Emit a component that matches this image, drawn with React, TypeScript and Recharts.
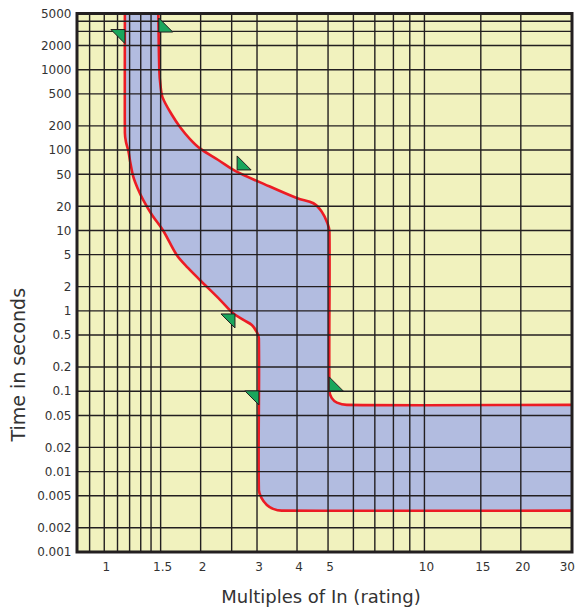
import React from 'react';
import { ComposedChart, XAxis, YAxis, Scatter, CartesianGrid } from 'recharts';

// Axis ranges
const X_MIN = 0.822;
const X_MAX = 28.9;
const T_MIN = 0.001;
const T_MAX = 5000;

// Tick labels
const X_TICKS = [1, 1.5, 2, 3, 4, 5, 10, 15, 20, 30];
const T_TICKS = [0.001, 0.002, 0.005, 0.01, 0.02, 0.05, 0.1, 0.2, 0.5, 1, 2, 5, 10, 20, 50, 100, 200, 500, 1000, 2000, 5000];

// Grid line values
const GRID_X = [0.9, 1, 1.1, 1.2, 1.3, 1.4, 1.5, 2, 2.5, 3, 4, 5, 6, 7, 8, 9, 10, 15, 20];
const GRID_T = [0.002, 0.005, 0.01, 0.02, 0.05, 0.1, 0.2, 0.5, 1, 2, 5, 10, 20, 50, 100, 200, 500, 1000, 2000, 3000, 4000];

// Minimum (lower/left) trip curve, from top to right end
const MIN_X = [1.16, 1.16, 1.169, 1.189, 1.207, 1.232, 1.27, 1.324, 1.41, 1.53, 1.684, 1.826, 1.99, 2.3, 2.52, 2.72, 2.89, 2.99, 3.04, 3.04, 3.1, 3.22, 3.37, 3.58, X_MAX];
const MIN_T = [5000, 163, 126, 98, 69, 46.7, 33.8, 23.9, 15.6, 9.86, 4.95, 3.42, 2.42, 1.37, 0.94, 0.77, 0.668, 0.551, 0.456, 0.0059, 0.00467, 0.00385, 0.00344, 0.00327, 0.00327];

// Maximum (upper/right) trip curve, from top to right end
const MAX_X = [1.475, 1.486, 1.498, 1.522, 1.628, 1.724, 1.853, 1.99, 2.27, 2.59, 3.07, 4.01, 4.5, 4.78, 4.98, 5.05, 5.05, 5.13, 5.33, 5.72, X_MAX];
const MAX_T = [5000, 964, 645, 449, 273, 194, 137, 105, 75.3, 53.8, 39.7, 25.1, 21.8, 17.1, 12.3, 9.6, 0.102, 0.0826, 0.0722, 0.0676, 0.0676];

// Green marker triangles
const MARK_X = [1.16, 1.48, 2.6, 2.56, 3.04, 5.04];
const MARK_T = [3160, 2940, 56.6, 0.915, 0.101, 0.101];
const MARK_DIR = ['left', 'right', 'right', 'left', 'left', 'right'];

const YELLOW = '#f1f2be';
const BLUE = '#b2bce0';
const RED = '#ec1c24';
const GREEN = '#1aa65c';
const INK = '#231f20';
const TEXT = '#333333';
const FONT = '"DejaVu Sans", "Liberation Sans", sans-serif';
const CHART_W = 576;
const CHART_H = 599;
const LABEL_RIGHT_LIMIT = CHART_W - 9;

const renderNothing = () => <g />;

type P = { x: number; y: number };

// Smooth path through points: tangent from neighbours, handle length = 1/3 of segment
const smoothCmds = (pts: P[]) => {
  const n = pts.length;
  const dirs = pts.map((p, i) => {
    const a = pts[Math.max(0, i - 1)];
    const b = pts[Math.min(n - 1, i + 1)];
    const dx = b.x - a.x;
    const dy = b.y - a.y;
    const len = Math.hypot(dx, dy) || 1;
    return { x: dx / len, y: dy / len };
  });
  let d = '';
  for (let i = 0; i + 1 < n; i++) {
    const p = pts[i];
    const q = pts[i + 1];
    const L = Math.hypot(q.x - p.x, q.y - p.y) / 3;
    const c1 = { x: p.x + dirs[i].x * L, y: p.y + dirs[i].y * L };
    const c2 = { x: q.x - dirs[i + 1].x * L, y: q.y - dirs[i + 1].y * L };
    d += `C${c1.x},${c1.y} ${c2.x},${c2.y} ${q.x},${q.y}`;
  }
  return d;
};

const BandShape = (props: any) => {
  const { points, split } = props;
  if (!points || points.length < 3) return <g />;
  const lower: P[] = points.slice(0, split);
  const upper: P[] = points.slice(split);
  const lowerD = `M${lower[0].x},${lower[0].y}` + smoothCmds(lower);
  const upperD = `M${upper[0].x},${upper[0].y}` + smoothCmds(upper);
  const fillD = lowerD + `L${upper[0].x},${upper[0].y}` + smoothCmds(upper) + 'Z';
  return (
    <g>
      <path d={fillD} fill={BLUE} stroke="none" />
      <path d={lowerD} fill="none" stroke={RED} strokeWidth={2.6} strokeLinejoin="round" />
      <path d={upperD} fill="none" stroke={RED} strokeWidth={2.6} strokeLinejoin="round" />
    </g>
  );
};

const GridShape = (props: any) => {
  const { points } = props;
  if (!points) return <g />;
  const segs = [];
  for (let i = 0; i + 1 < points.length; i += 2) {
    const a = points[i];
    const b = points[i + 1];
    segs.push(<line key={i} x1={a.x} y1={a.y} x2={b.x} y2={b.y} stroke={INK} strokeWidth={1.4} />);
  }
  return <g>{segs}</g>;
};

const BorderShape = (props: any) => {
  const { points } = props;
  if (!points) return <g />;
  const d = 'M' + points.map((p: any) => `${p.x},${p.y}`).join('L') + 'Z';
  return <path d={d} fill="none" stroke={INK} strokeWidth={3} />;
};

const renderTriangle = (props: any) => {
  const { cx, cy, payload } = props;
  const s = 14;
  let pts;
  if (payload.dir === 'left') {
    pts = `${cx - s},${cy} ${cx},${cy} ${cx},${cy + s}`;
  } else {
    pts = `${cx},${cy - s} ${cx},${cy} ${cx + s},${cy}`;
  }
  return <polygon points={pts} fill={GREEN} stroke={INK} strokeWidth={1} strokeLinejoin="miter" />;
};

const XTick = (props: any) => {
  const { x, y, payload } = props;
  const label = String(payload.value);
  const half = label.length * 3.9;
  let tx = x + 2;
  let anchor: 'middle' | 'end' = 'middle';
  if (tx + half > LABEL_RIGHT_LIMIT) {
    tx = LABEL_RIGHT_LIMIT;
    anchor = 'end';
  }
  return (
    <text x={tx} y={y} dy="0.71em" textAnchor={anchor} fontFamily={FONT} fontSize={12} fill={TEXT}>
      {label}
    </text>
  );
};

const renderXTitle = (props: any) => {
  const vb = props.viewBox || { x: 69, y: 544, width: 495, height: 55 };
  return (
    <text x={vb.x + vb.width / 2 - 3.5} y={vb.y + 51} textAnchor="middle" fontFamily={FONT} fontSize={18} fill={TEXT}>
      {props.value}
    </text>
  );
};

const renderYTitle = (props: any) => {
  const vb = props.viewBox || { x: 0, y: 5.5, width: 69, height: 538.5 };
  const cx = vb.x + 17;
  const cy = vb.y + vb.height / 2 + 82;
  return (
    <text x={cx} y={cy} transform={`rotate(-90, ${cx}, ${cy})`} textAnchor="middle" fontFamily={FONT} fontSize={19} fill={TEXT}>
      {props.value}
    </text>
  );
};

export default function App() {
  const bandData = [
    ...MIN_X.map((x, i) => ({ x, t: MIN_T[i] })),
    ...MAX_X.map((x, i) => ({ x, t: MAX_T[i] })).reverse(),
  ];
  const gridData = [
    ...GRID_X.flatMap((x) => [{ x, t: T_MIN }, { x, t: T_MAX }]),
    ...GRID_T.flatMap((t) => [{ x: X_MIN, t }, { x: X_MAX, t }]),
  ];
  const borderData = [
    { x: X_MIN, t: T_MIN },
    { x: X_MAX, t: T_MIN },
    { x: X_MAX, t: T_MAX },
    { x: X_MIN, t: T_MAX },
  ];
  const markerData = MARK_X.map((x, i) => ({ x, t: MARK_T[i], dir: MARK_DIR[i] }));

  return (
    <div style={{ width: CHART_W, height: CHART_H }}>
      <style>{'html,body{overflow:hidden}'}</style>
      <ComposedChart width={CHART_W} height={CHART_H} margin={{ top: 5.5, right: 12, bottom: 0, left: 0 }}>
        <CartesianGrid fill={YELLOW} horizontal={false} vertical={false} stroke="none" />
        <XAxis
          dataKey="x"
          type="number"
          scale="log"
          domain={[X_MIN, X_MAX]}
          ticks={X_TICKS}
          interval={0}
          tickLine={false}
          axisLine={false}
          tickSize={0}
          tickMargin={10}
          height={55}
          tick={<XTick />}
          label={{ value: 'Multiples of In (rating)', content: renderXTitle }}
        />
        <YAxis
          dataKey="t"
          type="number"
          scale="log"
          domain={[T_MIN, T_MAX]}
          ticks={T_TICKS}
          interval={0}
          tickFormatter={(v: number) => String(v)}
          tickLine={false}
          axisLine={false}
          tickSize={0}
          tickMargin={5.5}
          width={69}
          tick={{ fontSize: 12, fill: TEXT, fontFamily: FONT }}
          label={{ value: 'Time in seconds', content: renderYTitle }}
        />
        <Scatter data={bandData} line={<BandShape split={MIN_X.length} />} shape={renderNothing} isAnimationActive={false} />
        <Scatter data={gridData} line={<GridShape />} shape={renderNothing} isAnimationActive={false} />
        <Scatter data={borderData} line={<BorderShape />} shape={renderNothing} isAnimationActive={false} />
        <Scatter data={markerData} shape={renderTriangle} isAnimationActive={false} />
      </ComposedChart>
    </div>
  );
}
